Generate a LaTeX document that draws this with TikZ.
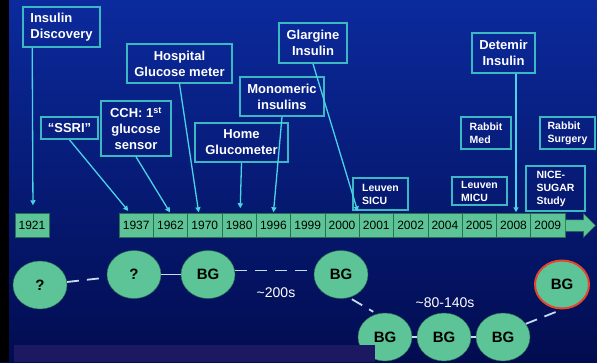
\documentclass[tikz,border=0pt]{standalone}
\usepackage{fontspec}
\setmainfont{Liberation Sans}
\usetikzlibrary{arrows.meta,shapes}

\definecolor{bgtop}{HTML}{0B2A9C}
\definecolor{bgmid}{HTML}{04197C}
\definecolor{bgbot}{HTML}{020C50}
\definecolor{boxline}{HTML}{3CB8C4}
\definecolor{arrline}{HTML}{48D4E4}
\definecolor{yeargreen}{HTML}{5CC496}
\definecolor{yearedge}{HTML}{2C6E50}
\definecolor{linkline}{HTML}{C8DCF0}
\definecolor{barcol}{HTML}{1D1862}
\definecolor{redring}{HTML}{E4452C}

\tikzstyle{tagbox}=[draw=boxline, line width=1.6pt, text=white, font=\bfseries\fontsize{13}{16}\selectfont, align=center, inner sep=0pt]
\tikzstyle{smalltag}=[tagbox, font=\bfseries\fontsize{10.5}{13}\selectfont, align=left]
\tikzstyle{yearbox}=[draw=yearedge, line width=0.5pt, fill=yeargreen, minimum width=34.3pt, minimum height=24pt, inner sep=0pt, font=\fontsize{12}{14}\selectfont]
\tikzstyle{pointer}=[draw=arrline, line width=1.3pt, -{Triangle[length=5pt,width=5pt]}]
\tikzstyle{bgnode}=[ellipse, draw=yearedge, line width=0.4pt, fill=yeargreen, minimum width=54pt, minimum height=48pt, inner sep=0pt, font=\bfseries\fontsize{15}{18}\selectfont]
\tikzstyle{bglink}=[draw=linkline, line width=1.8pt]
\tikzstyle{bgdash}=[bglink, dash pattern=on 12pt off 8pt]
\tikzstyle{timelabel}=[text=white, font=\fontsize{14}{16}\selectfont]

\begin{document}
\begin{tikzpicture}[x=1pt, y=-1pt]

    \useasboundingbox (0,0) rectangle (597,362);
    \shade[top color=bgtop, middle color=bgmid, bottom color=bgbot] (0,0) rectangle (597,362);
    \fill[black] (0,0) rectangle (9,362);

    % timeline
    \node[yearbox] (y1921) at (32, 225.5) {1921};
    \foreach \x/\name in {136.2/1937, 170.5/1962, 204.8/1970, 239.1/1980, 273.4/1996, 307.7/1999, 342/2000,
                          376.3/2001, 410.6/2002, 444.9/2004, 479.2/2005, 513.5/2008, 547.8/2009}
        \node[yearbox] (y\name) at (\x, 225.5) {\name};

    \node[single arrow, fill=yeargreen, draw=yearedge, line width=0.5pt, inner sep=5.5pt,
          single arrow head extend=6pt, minimum height=30pt, anchor=west] (tlarrow) at (y2009.east) {};

    % events
    \node[tagbox, align=left, minimum width=77pt, minimum height=40pt] (disc) at (61.5, 27) {Insulin\\Discovery};

    \foreach \x/\y/\w/\h/\name/\txt in {179.5/63.5/105/39/hosp/{Hospital\\Glucose meter},
                                         69.5/128/57/22/ssri/{“SSRI”},
                                         136/128.5/70/55/cch/{CCH: 1\textsuperscript{st}\\glucose\\sensor},
                                         241.5/142.5/93/39/home/{Home\\Glucometer},
                                         282/96.5/84/39/mono/{Monomeric\\insulins},
                                         313/43/68/40/glar/{Glargine\\Insulin},
                                         503.5/53/63/40/dete/{Detemir\\Insulin}}
        \node[tagbox, minimum width=\w pt, minimum height=\h pt] (\name) at (\x, \y) {\txt};

    \foreach \x/\y/\w/\h/\name/\txt in {486/133/50/32/rmed/{Rabbit\\Med},
                                         567.5/133/55/32/rsurg/{Rabbit\\Surgery},
                                         555.5/188.5/59/45/nice/{NICE-\\SUGAR\\Study},
                                         380.5/194/55/32/lsicu/{Leuven\\SICU},
                                         479.5/191/55/28/lmicu/{Leuven\\MICU}}
        \node[smalltag, minimum width=\w pt, minimum height=\h pt] (\name) at (\x, \y) {\txt};

    \path[pointer, shorten >=8pt] ([xshift=10pt]disc.south west) -- ([xshift=1pt]y1921.north);
    \foreach \source/\dest/\dx/\gap in {ssri/y1937/-6/3, cch/y1962/0/1, hosp/y1970/-6/1,
                                        home/y1980/1/5, mono/y1996/0/1, glar/y2001/-18/2}
        \path[pointer, shorten >=\gap pt] (\source.south) -- ([xshift=\dx pt]\dest.north);
    \path[pointer, shorten >=1pt] ([xshift=12.5pt]dete.south) -- ([xshift=2.5pt]y2008.north);

    % glucose readings
    \foreach \x/\y/\name/\txt in {40/285/q1/?, 134/274.5/q2/?, 208/274.5/bg1/BG, 341/274.5/bg2/BG,
                                  385/337/bg3/BG, 444/337/bg4/BG, 503/337/bg5/BG}
        \node[bgnode] (\name) at (\x, \y) {\txt};
    \node[bgnode, draw=redring, line width=2pt] (bgr) at (562, 284.5) {BG};

    \path[bgdash, shorten >=5pt] (q1) -- (q2);
    \path[bglink] (q2) -- (bg1);
    \path[bgdash] ([yshift=4pt]bg1.east) -- ([yshift=4pt]bg2.west);
    \path[bgdash, shorten <=1pt, shorten >=2pt] ([xshift=10pt]bg2.south) -- ([xshift=-10pt]bg3.north);
    \path[bglink] (bg3) -- (bg4);
    \path[bglink] (bg4) -- (bg5);
    \path[bgdash] (bg5.30) -- (bgr.south);

    \node[timelabel] (t200) at (276, 293) {\textasciitilde200s};
    \node[timelabel] (t80) at (445, 303) {\textasciitilde80-140s};

    \fill[barcol] (14,345) rectangle (375,362);

\end{tikzpicture}
\end{document}
